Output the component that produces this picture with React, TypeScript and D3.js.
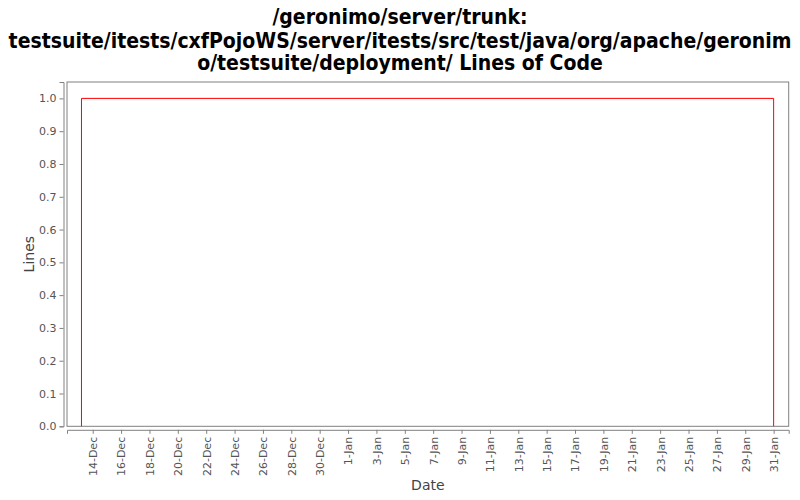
import React, { useRef, useEffect } from "react";
import * as d3 from "d3";

const titleLines = [
  "/geronimo/server/trunk:",
  "testsuite/itests/cxfPojoWS/server/itests/src/test/java/org/apache/geronim",
  "o/testsuite/deployment/ Lines of Code",
];

// step series: rises to 1 on 13-Dec, stays there until 31-Jan
const dates = [
  new Date(2007, 11, 13, 5),
  new Date(2007, 11, 13, 5),
  new Date(2008, 0, 31, 0),
  new Date(2008, 0, 31, 0),
];
const lines = [0, 1, 1, 0];

const domainStart = new Date(2007, 11, 12, 4, 30);
const domainEnd = new Date(2008, 1, 1, 1, 30);
const firstTick = new Date(2007, 11, 14);
const lastTick = new Date(2008, 0, 31);
const yTicks = [0, 0.1, 0.2, 0.3, 0.4, 0.5, 0.6, 0.7, 0.8, 0.9, 1.0];

export default function App() {
  const ref = useRef<SVGSVGElement>(null);

  useEffect(() => {
    if (!ref.current) return;
    const svg = d3.select(ref.current);
    svg.selectAll("*").remove();

    const w = 800;
    const h = 500;
    const plot = { left: 67, right: 788.7, top: 82, bottom: 426.3 };

    svg.append("rect").attr("width", w).attr("height", h).attr("fill", "#fff");

    // title
    const titleY = [24, 48, 70];
    titleLines.forEach((t, i) => {
      svg.append("text")
        .attr("x", w / 2)
        .attr("y", titleY[i])
        .attr("text-anchor", "middle")
        .style("font-family", "'DejaVu Sans Condensed', 'DejaVu Sans', sans-serif")
        .style("font-weight", "bold")
        .style("font-size", "21px")
        .attr("fill", "#000")
        .text(t);
    });

    const x = d3.scaleTime()
      .domain([domainStart, domainEnd])
      .range([plot.left, plot.right]);
    const y = d3.scaleLinear()
      .domain([0, 1.05])
      .range([plot.bottom, plot.top]);

    // plot border
    svg.append("rect")
      .attr("x", plot.left)
      .attr("y", plot.top)
      .attr("width", plot.right - plot.left)
      .attr("height", plot.bottom - plot.top)
      .attr("fill", "none")
      .attr("stroke", "#808080")
      .attr("stroke-width", 1);

    // y axis
    const yAxis = d3.axisLeft<number>(y)
      .tickValues(yTicks)
      .tickFormat(d3.format(".1f"))
      .tickSize(4)
      .tickPadding(3);
    const gy = svg.append("g")
      .attr("transform", `translate(${plot.left - 3.5},0)`)
      .call(yAxis);
    gy.select(".domain").attr("stroke", "#808080");
    gy.selectAll(".tick line").attr("stroke", "#808080");
    gy.selectAll("text")
      .attr("fill", "#555")
      .style("font-family", "'DejaVu Sans', sans-serif")
      .style("font-size", "11px");

    // x axis
    const xTicks = d3.timeDay.range(firstTick, d3.timeDay.offset(lastTick, 1), 2);
    const xAxis = d3.axisBottom<Date>(x)
      .tickValues(xTicks)
      .tickFormat(d3.timeFormat("%-d-%b"))
      .tickSize(4)
      .tickPadding(3);
    const gx = svg.append("g")
      .attr("transform", `translate(0,${plot.bottom + 3.5})`)
      .call(xAxis);
    gx.select(".domain").attr("stroke", "#808080");
    gx.selectAll(".tick line").attr("stroke", "#808080");
    gx.selectAll("text")
      .attr("fill", "#555")
      .style("font-family", "'DejaVu Sans', sans-serif")
      .style("font-size", "11px")
      .attr("text-anchor", "end")
      .attr("transform", "rotate(-90)")
      .attr("x", -7)
      .attr("y", 0)
      .attr("dy", "0.35em");

    // axis labels
    svg.append("text")
      .attr("transform", `translate(34,${(plot.top + plot.bottom) / 2}) rotate(-90)`)
      .attr("text-anchor", "middle")
      .style("font-family", "'DejaVu Sans', sans-serif")
      .style("font-size", "14px")
      .attr("fill", "#444")
      .text("Lines");
    svg.append("text")
      .attr("x", (plot.left + plot.right) / 2)
      .attr("y", 490)
      .attr("text-anchor", "middle")
      .style("font-family", "'DejaVu Sans', sans-serif")
      .style("font-size", "14px")
      .attr("fill", "#444")
      .text("Date");

    // series
    const line = d3.line<number>()
      .x((_, i) => x(dates[i]))
      .y(d => y(d));
    svg.append("path")
      .attr("d", line(lines))
      .attr("fill", "none")
      .attr("stroke", "#ff0000")
      .attr("stroke-width", 1);
  }, []);

  return (
    <svg
      ref={ref}
      width={800}
      height={500}
      style={{ position: "absolute", left: 0, top: 0 }}
    />
  );
}
